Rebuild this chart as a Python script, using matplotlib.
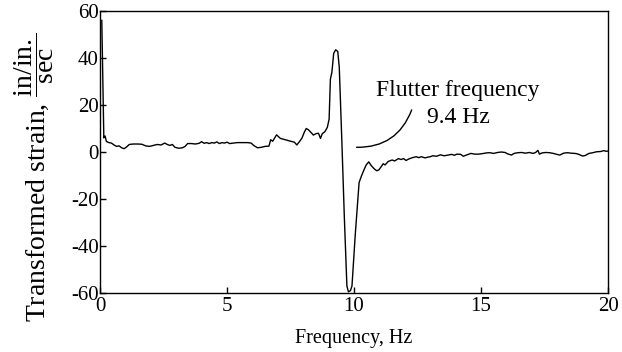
"""
Transformed strain spectrum with the flutter frequency marked
"""
import matplotlib
matplotlib.use('Agg')
import matplotlib.pyplot as plt
from matplotlib.patches import FancyArrowPatch

# Frequency (Hz) and transformed strain values
freq = [0.07, 0.15, 0.2, 0.25, 0.35, 0.45, 0.55, 0.65, 0.75, 0.85, 0.95,
        1.05, 1.15, 1.3, 1.5, 1.65, 1.8, 1.95, 2.1, 2.25, 2.4, 2.55, 2.65,
        2.75, 2.85, 2.95, 3.1, 3.25, 3.35, 3.45, 3.6, 3.75, 3.9, 4.0, 4.1,
        4.2, 4.3, 4.4, 4.5, 4.6, 4.7, 4.8, 4.9, 5.0, 5.1, 5.25, 5.4, 5.6,
        5.8, 5.95, 6.05, 6.2, 6.35, 6.5, 6.65, 6.72, 6.8, 6.95, 7.1, 7.3,
        7.5, 7.65, 7.75, 7.85, 7.95, 8.05, 8.12, 8.2, 8.3, 8.4, 8.5, 8.6,
        8.68, 8.75, 8.85, 8.95, 9.02, 9.07, 9.13, 9.2, 9.28, 9.36, 9.42,
        9.52, 9.62, 9.72, 9.78, 9.86, 9.92, 10.05, 10.2, 10.3, 10.4, 10.48,
        10.58, 10.68, 10.8, 10.9, 10.98, 11.05, 11.15, 11.22, 11.35, 11.5,
        11.6, 11.75, 11.85, 11.95, 12.05, 12.15, 12.3, 12.45, 12.55, 12.65,
        12.8, 12.9, 13.0, 13.1, 13.25, 13.4, 13.55, 13.7, 13.85, 13.95,
        14.05, 14.2, 14.3, 14.45, 14.6, 14.75, 14.9, 15.05, 15.2, 15.35,
        15.5, 15.65, 15.8, 15.95, 16.05, 16.2, 16.3, 16.45, 16.6, 16.75,
        16.9, 17.05, 17.15, 17.24, 17.3, 17.4, 17.55, 17.7, 17.85, 17.95,
        18.1, 18.25, 18.4, 18.55, 18.7, 18.8, 19.0, 19.1, 19.25, 19.4,
        19.55, 19.7, 19.85, 19.92, 20.0]
strain = [56, 6.0, 6.8, 4.5, 4.0, 3.8, 3.0, 2.4, 2.6, 1.8, 1.4,
          2.2, 3.2, 3.4, 3.4, 3.3, 2.6, 2.4, 2.8, 3.2, 3.0, 3.8, 3.2,
          2.8, 3.2, 2.0, 1.6, 1.8, 2.4, 3.6, 3.6, 3.4, 3.7, 4.4, 3.7,
          4.0, 3.6, 4.0, 3.8, 4.3, 3.6, 4.0, 3.8, 4.2, 3.6, 3.8, 4.0, 4.0,
          4.0, 3.8, 2.8, 1.8, 2.0, 2.4, 2.5, 5.2, 4.6, 7.3, 5.8, 5.2,
          4.6, 4.2, 3.0, 4.4, 5.9, 8.6, 10.0, 9.5, 8.4, 7.2, 7.8, 8.0,
          5.8, 7.8, 8.6, 10.5, 14.0, 31.0, 34.0, 42.0, 43.5, 42.8, 36.0,
          5.0, -28, -57, -59.5, -59.0, -57.0, -35, -13, -10, -7.4, -5.5,
          -4.2, -5.8, -7.2, -8.0, -7.6, -6.5, -5.0, -5.5, -4.0, -3.4,
          -3.8, -2.8, -3.2, -2.8, -3.6, -3.0, -2.4, -2.0, -2.4, -2.0,
          -2.5, -2.2, -2.0, -1.6, -1.8, -1.2, -1.6, -1.3, -1.0, -1.4,
          -0.9, -1.0, -1.8, -1.2, -0.6, -0.9, -0.9, -0.7, -0.4, -0.3,
          -0.6, -0.2, 0.0, -0.2, -0.8, -1.3, -0.6, -0.3, -0.2, -0.5,
          -0.2, -0.6, -0.2, 0.7, -0.9, -0.4, -0.2, -0.3, -0.6, -0.9,
          -1.3, -0.5, -0.3, -0.5, -0.6, -0.8, -1.7, -1.5, -0.6, -0.3,
          0.1, 0.2, 0.6, 0.3, 0.4]

x_ticks = [0, 5, 10, 15, 20]
y_ticks = [-60, -40, -20, 0, 20, 40, 60]

plt.rcParams['font.family'] = ['Liberation Serif', 'DejaVu Serif']
plt.rcParams['mathtext.fontset'] = 'custom'
plt.rcParams['mathtext.rm'] = 'Liberation Serif'
plt.rcParams['mathtext.it'] = 'Liberation Serif:italic'
plt.rcParams['axes.unicode_minus'] = False

fig = plt.figure(figsize=(6.22, 3.52), dpi=100)
ax = fig.add_axes([0.1608, 0.1676, 0.8167, 0.8011])

ax.plot(freq, strain, color='black', linewidth=1.0)

ax.set_xlim(0, 20)
ax.set_ylim(-60, 60)
ax.set_xticks(x_ticks)
ax.set_yticks(y_ticks)
ax.tick_params(direction='in', length=4, width=1, labelsize=15,
               top=False, right=False)
ax.tick_params(axis='y', pad=1)
ax.tick_params(axis='x', pad=3)
for s in ax.spines.values():
    s.set_linewidth(1.0)

ax.set_xlabel('Frequency, Hz', fontsize=14.5, labelpad=9)
ax.set_ylabel(r'Transformed strain, $\dfrac{\mathrm{in/in.}}{\mathrm{sec}}$',
              fontsize=20)
ax.yaxis.set_label_coords(-0.086, 0.41)

# Flutter annotation
ax.text(14.1, 20.5, 'Flutter frequency\n9.4 Hz', ha='center', va='center',
        fontsize=17, linespacing=1.35)
leader = FancyArrowPatch((10.1, 2.0), (12.27, 17.9), arrowstyle='-',
                         connectionstyle='arc3,rad=0.35', color='black',
                         linewidth=1.0, shrinkA=0, shrinkB=0)
ax.add_patch(leader)

fig.savefig('out.png', dpi=100)
